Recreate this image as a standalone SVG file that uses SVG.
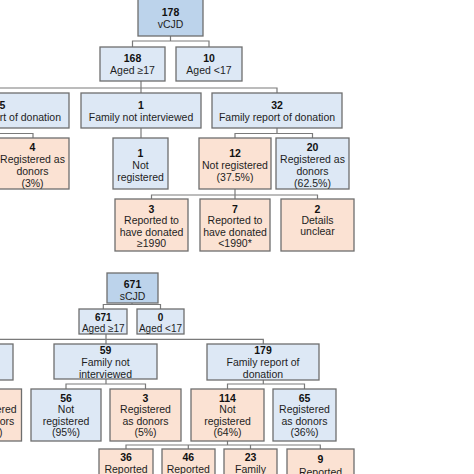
<svg xmlns="http://www.w3.org/2000/svg" width="474" height="474" viewBox="0 0 474 474">
<style>
text{font-family:"Liberation Sans",Arial,sans-serif;font-size:10.5px;fill:#1e1e1e;text-anchor:middle}
.b{font-weight:bold;fill:#111}
.s{font-size:10px}
.root{fill:#bcd3eb;stroke:#6e6e6e;stroke-width:1.3}
.blue{fill:#dde8f5;stroke:#6e6e6e;stroke-width:1.3}
.peach{fill:#fbe2d3;stroke:#6e6e6e;stroke-width:1.3}
#connectors path{fill:none;stroke:#7a7a7a;stroke-width:1.2}
</style>
<rect width="474" height="474" fill="#ffffff"/>
<g id="connectors">
<path d="M170.5 36V41M132.5 47V41H209V47"/>
<path d="M141 81V93M-3.5 93V88H277V93"/>
<path d="M-3.5 128V133.5M-10 133.5H33V138"/>
<path d="M141 128V138"/>
<path d="M277 128V133.5M235 138V133.5H312.5V138"/>
<path d="M235 189V195M151.5 199V195H317.5V199M235 195V199"/>
<path d="M132 303V304.5M103.3 309V304.5H160.5V309"/>
<path d="M106 334V344M-10 339.3H263.3V344"/>
<path d="M106 379V384M66 389V384H145.5V389"/>
<path d="M263.3 380V384M227.5 389V384H304.5V389"/>
<path d="M227.5 441V445M126 449V445H320.3V449M188.3 445V449M250.5 445V449"/>
</g>
<g id="n178"><rect class="root" x="138" y="-2" width="65" height="38"/><text class="b" x="170.5" y="16">178</text><text x="170.5" y="28">vCJD</text></g>
<g id="n168"><rect class="blue" x="100" y="47" width="65" height="34"/><text class="b" x="132.5" y="62">168</text><text x="132.5" y="73.5">Aged ≥17</text></g>
<g id="n10"><rect class="blue" x="176" y="47" width="66" height="34"/><text class="b" x="209" y="62">10</text><text x="209" y="73.5">Aged &lt;17</text></g>
<g id="n135"><rect class="blue" x="-76" y="93" width="145" height="35"/><text class="b" x="-3.5" y="109">135</text><text x="-3.5" y="120.5">No family report of donation</text></g>
<g id="n1fni"><rect class="blue" x="81" y="93" width="120" height="35"/><text class="b" x="141" y="109">1</text><text x="141" y="120.5">Family not interviewed</text></g>
<g id="n32"><rect class="blue" x="212" y="93" width="130" height="35"/><text class="b" x="277" y="109">32</text><text x="277" y="120.5">Family report of donation</text></g>
<g id="n4"><rect class="peach" x="-4" y="138" width="73" height="51"/><text class="b" x="32.5" y="150.5">4</text><text x="32.5" y="162.8">Registered as</text><text x="32.5" y="175">donors</text><text x="32.5" y="187">(3%)</text></g>
<g id="n1nr"><rect class="blue" x="113" y="138" width="55" height="51"/><text class="b" x="140.5" y="157">1</text><text x="140.5" y="169">Not</text><text x="140.5" y="181">registered</text></g>
<g id="n12"><rect class="peach" x="199" y="138" width="72" height="51"/><text class="b" x="235" y="157">12</text><text x="235" y="169">Not registered</text><text x="235" y="181">(37.5%)</text></g>
<g id="n20"><rect class="blue" x="276" y="138" width="73" height="51"/><text class="b" x="312.5" y="150.5">20</text><text x="312.5" y="162.8">Registered as</text><text x="312.5" y="175">donors</text><text x="312.5" y="187">(62.5%)</text></g>
<g id="n3"><rect class="peach" x="115" y="199" width="73" height="52"/><text class="b" x="151.5" y="213">3</text><text x="151.5" y="224.2">Reported to</text><text x="151.5" y="235.6">have donated</text><text x="151.5" y="247">≥1990</text></g>
<g id="n7"><rect class="peach" x="200" y="199" width="70" height="52"/><text class="b" x="235" y="213">7</text><text x="235" y="224.2">Reported to</text><text x="235" y="235.6">have donated</text><text x="235" y="247">&lt;1990*</text></g>
<g id="n2"><rect class="peach" x="281" y="199" width="73" height="52"/><text class="b" x="317.5" y="212.5">2</text><text x="317.5" y="223.5">Details</text><text x="317.5" y="234.5">unclear</text></g>
<g id="n671"><rect class="root" x="107" y="273" width="51" height="30"/><text class="b" x="132.5" y="288">671</text><text x="132.5" y="300">sCJD</text></g>
<g id="n671a"><rect class="blue" x="79" y="309" width="48" height="25"/><text class="b s" x="103.3" y="320.5">671</text><text class="s" x="103.3" y="332">Aged ≥17</text></g>
<g id="n0"><rect class="blue" x="137" y="309" width="47" height="25"/><text class="b s" x="160.5" y="320.5">0</text><text class="s" x="160.5" y="332">Aged &lt;17</text></g>
<g id="nleft2"><rect class="blue" x="-90" y="344" width="103" height="36"/></g>
<g id="n59"><rect class="blue" x="54" y="344" width="103" height="35"/><text class="b" x="105.5" y="354">59</text><text x="105.5" y="366">Family not</text><text x="105.5" y="377.5">interviewed</text></g>
<g id="n179"><rect class="blue" x="207" y="344" width="112" height="36"/><text class="b" x="263" y="354">179</text><text x="263" y="366">Family report of</text><text x="263" y="377.5">donation</text></g>
<g id="nleftp"><rect class="peach" x="-39" y="389" width="60.5" height="52"/><text x="-8.7" y="413">Registered</text><text x="-8.7" y="425">as donors</text><text x="2.5" y="435.5" style="text-anchor:end">%)</text></g>
<g id="n56"><rect class="blue" x="31" y="389" width="70" height="52"/><text class="b" x="66" y="401.5">56</text><text x="66" y="413">Not</text><text x="66" y="424.7">registered</text><text x="66" y="435.8">(95%)</text></g>
<g id="n3b"><rect class="peach" x="110" y="389" width="71" height="52"/><text class="b" x="145.5" y="401.5">3</text><text x="145.5" y="413">Registered</text><text x="145.5" y="424.7">as donors</text><text x="145.5" y="435.8">(5%)</text></g>
<g id="n114"><rect class="peach" x="191" y="389" width="73" height="52"/><text class="b" x="227.5" y="401.5">114</text><text x="227.5" y="413">Not</text><text x="227.5" y="424.7">registered</text><text x="227.5" y="435.8">(64%)</text></g>
<g id="n65"><rect class="blue" x="273" y="389" width="63" height="52"/><text class="b" x="304.5" y="401.5">65</text><text x="304.5" y="413">Registered</text><text x="304.5" y="424.7">as donors</text><text x="304.5" y="435.8">(36%)</text></g>
<g id="n36"><rect class="peach" x="99" y="449" width="54" height="40"/><text class="b" x="126" y="460.5">36</text><text x="126" y="473">Reported</text></g>
<g id="n46"><rect class="peach" x="162" y="449" width="53" height="40"/><text class="b" x="188.3" y="460.5">46</text><text x="188.3" y="473">Reported</text></g>
<g id="n23"><rect class="peach" x="224" y="449" width="53" height="40"/><text class="b" x="250.5" y="460.5">23</text><text x="250.5" y="473">Family</text></g>
<g id="n9"><rect class="peach" x="287" y="449" width="67" height="40"/><text class="b" x="320.5" y="463">9</text><text x="320.5" y="475.5">Reported</text></g>
</svg>
